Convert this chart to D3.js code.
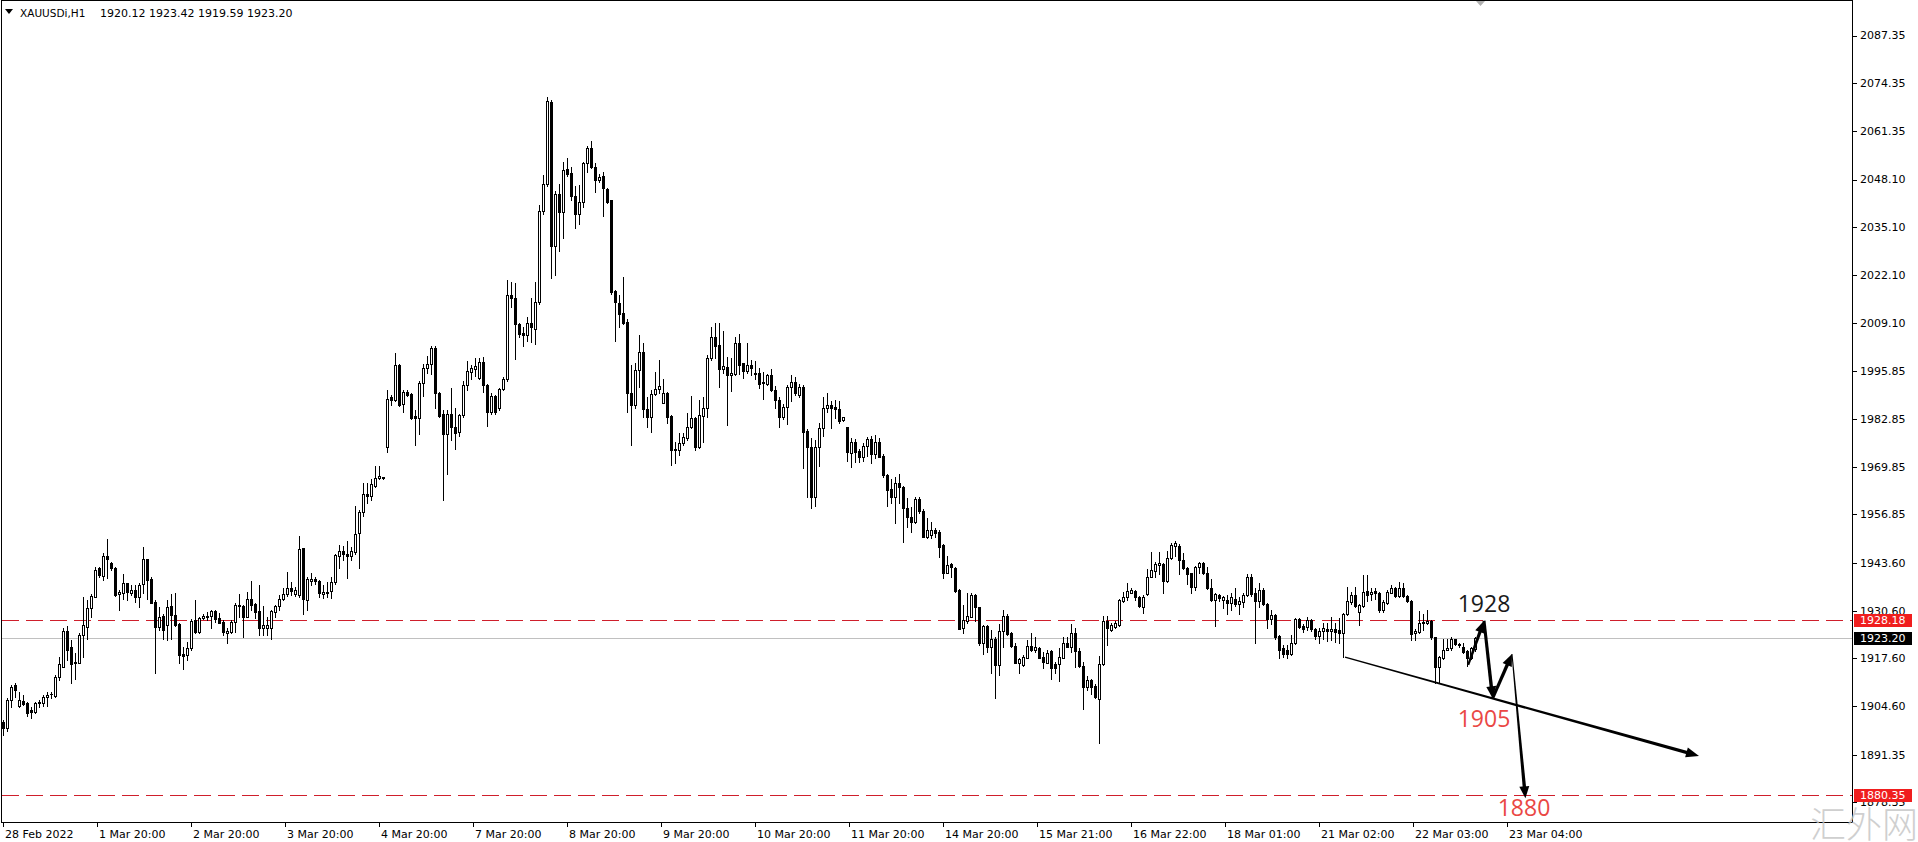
<!DOCTYPE html>
<html><head><meta charset="utf-8">
<script src="https://cdn.jsdelivr.net/npm/d3@7"></script>
<style>html,body{margin:0;padding:0;background:#fff;overflow:hidden}</style>
</head><body>
<svg id="chart" width="1918" height="842" xmlns="http://www.w3.org/2000/svg"></svg>
<script>
// ---------- DATA ----------
const symbolLabel = "XAUUSDi,H1";
const headerValues = "1920.12 1923.42 1919.59 1923.20";

// hourly candles: [open, high, low, close]
const candles = [
[1900.3,1900.8,1896.7,1898.5],[1898.5,1906.7,1897.8,1906.2],[1906.2,1910.3,1904.4,1909.7],[1910.3,1910.8,1907.1,1908.9],
[1904.6,1908.5,1904.4,1906.2],[1906.0,1907.6,1904.8,1905.1],[1905.5,1905.8,1901.8,1902.8],[1903.5,1904.2,1901.2,1903.0],
[1903.0,1905.8,1902.6,1905.5],[1905.4,1906.2,1904.4,1905.6],[1905.3,1907.6,1904.6,1907.1],[1907.0,1908.5,1904.6,1907.6],
[1907.8,1908.5,1906.9,1907.9],[1907.3,1913.0,1907.1,1912.6],[1912.4,1918.0,1911.8,1916.0],[1915.3,1926.0,1915.1,1925.0],
[1925.0,1926.4,1917.1,1920.0],[1920.8,1922.6,1910.9,1916.0],[1916.7,1919.0,1912.1,1916.2],[1916.4,1924.4,1916.2,1923.9],
[1923.9,1934.4,1918.0,1926.7],[1926.2,1933.5,1923.0,1931.2],[1931.2,1935.1,1928.9,1934.6],[1934.4,1942.6,1934.2,1941.8],
[1942.1,1942.6,1939.8,1940.3],[1940.0,1946.2,1938.9,1945.5],[1945.5,1950.0,1939.4,1944.8],[1943.5,1943.9,1941.7,1942.1],
[1942.1,1942.6,1934.5,1934.8],[1935.1,1936.2,1930.9,1935.8],[1935.5,1940.6,1933.7,1938.0],[1938.0,1938.2,1933.5,1935.8],
[1935.5,1937.6,1934.8,1936.2],[1936.2,1937.6,1933.0,1934.4],[1934.4,1938.0,1931.5,1937.6],[1937.8,1948.0,1935.3,1944.6],
[1944.6,1944.8,1933.7,1938.9],[1939.1,1939.8,1932.6,1932.8],[1933.0,1933.5,1913.5,1926.2],[1926.2,1931.5,1925.3,1928.9],
[1929.1,1929.8,1923.0,1925.3],[1926.7,1933.5,1922.6,1931.7],[1931.8,1935.1,1923.0,1929.4],[1929.4,1935.3,1926.5,1926.7],
[1926.9,1927.1,1916.2,1918.5],[1918.8,1920.8,1914.6,1918.2],[1918.5,1922.1,1917.1,1920.3],[1920.3,1928.2,1920.0,1927.8],
[1928.0,1933.5,1924.6,1924.8],[1924.8,1928.8,1924.6,1928.5],[1928.7,1929.7,1928.2,1929.1],[1928.8,1930.3,1928.0,1929.1],
[1929.0,1930.9,1926.0,1930.6],[1930.6,1930.8,1927.6,1928.2],[1928.5,1930.0,1927.1,1927.3],[1927.6,1928.0,1923.9,1924.8],
[1924.4,1925.8,1921.8,1925.1],[1924.8,1928.0,1924.6,1927.6],[1927.6,1932.6,1924.8,1932.1],[1931.8,1935.1,1928.9,1932.1],
[1931.8,1932.1,1923.3,1928.9],[1928.9,1935.8,1928.8,1933.7],[1933.7,1938.8,1930.8,1932.1],[1932.4,1932.8,1928.5,1930.3],
[1930.6,1937.6,1923.9,1926.0],[1926.0,1931.8,1923.9,1926.7],[1925.8,1928.9,1923.9,1926.7],[1926.0,1930.9,1923.0,1930.6],
[1930.3,1932.1,1928.9,1931.8],[1931.8,1934.8,1930.9,1933.9],[1933.9,1936.7,1933.5,1935.1],[1935.1,1941.2,1934.6,1936.7],
[1936.7,1938.5,1934.8,1936.0],[1935.1,1937.1,1934.6,1936.2],[1934.8,1950.9,1934.4,1947.3],[1947.6,1947.8,1929.7,1933.7],
[1933.4,1939.7,1930.9,1939.2],[1938.6,1940.8,1937.6,1939.2],[1939.2,1939.7,1937.8,1938.6],[1938.8,1938.9,1934.3,1935.3],
[1935.1,1937.6,1934.0,1935.8],[1935.3,1938.3,1934.2,1935.8],[1936.0,1939.7,1934.0,1938.3],[1938.3,1945.9,1937.8,1945.7],
[1945.4,1948.4,1942.3,1946.9],[1946.9,1948.1,1944.3,1945.9],[1946.1,1949.6,1939.5,1945.4],[1945.4,1948.0,1944.3,1946.9],
[1946.6,1959.2,1946.1,1951.5],[1951.7,1958.1,1942.3,1957.6],[1957.6,1965.5,1956.4,1962.5],[1962.5,1965.3,1959.8,1961.8],
[1961.8,1966.4,1960.7,1965.0],[1964.7,1969.9,1964.4,1966.8],[1966.8,1970.1,1966.4,1967.3],[1966.9,1967.0,1966.5,1966.7],
[1975.1,1990.8,1973.9,1988.3],[1988.9,1989.4,1986.6,1988.0],[1988.0,2000.9,1987.6,1997.5],[1997.5,1997.9,1986.5,1986.6],
[1986.8,1990.8,1984.8,1990.1],[1990.1,1990.8,1989.0,1989.4],[1989.6,1989.9,1982.8,1983.1],[1983.7,1985.3,1975.8,1983.0],
[1983.1,1993.3,1978.8,1992.6],[1992.6,1997.9,1989.0,1996.6],[1996.6,2000.0,1995.4,1997.9],[1997.9,2002.8,1995.1,2002.3],
[2002.3,2002.8,1985.7,1989.9],[1990.0,1990.3,1983.4,1983.7],[1984.1,1985.3,1960.7,1978.8],[1978.8,1985.3,1967.8,1984.1],
[1984.1,1991.3,1977.0,1980.7],[1980.7,1985.7,1974.7,1979.1],[1979.3,1984.3,1978.2,1983.9],[1983.9,1993.1,1983.4,1992.2],
[1992.2,1998.6,1990.8,1996.0],[1995.7,1997.5,1993.6,1996.6],[1996.5,1999.5,1994.5,1997.2],[1993.9,1999.4,1993.6,1998.4],
[1998.4,1999.7,1990.3,1992.0],[1992.0,1992.4,1980.9,1984.6],[1984.6,1989.9,1984.3,1989.0],[1989.0,1989.4,1984.3,1984.8],
[1985.7,1991.3,1985.3,1991.1],[1991.1,1994.2,1990.8,1993.8],[1993.6,2020.7,1993.1,2016.6],[2016.6,2020.3,2013.4,2015.7],
[2015.9,2020.0,1999.1,2008.6],[2008.7,2008.9,2005.3,2006.0],[2006.2,2008.0,2002.8,2005.8],[2005.8,2010.6,2004.0,2008.9],
[2008.9,2015.7,2003.7,2008.0],[2007.4,2020.3,2003.4,2014.7],[2014.7,2041.2,2014.1,2039.6],[2039.6,2049.3,2038.7,2047.0],
[2047.0,2070.5,2046.3,2069.4],[2069.1,2069.7,2021.2,2029.9],[2029.9,2045.1,2022.1,2044.2],[2044.2,2047.0,2028.6,2039.3],
[2039.3,2053.0,2032.2,2050.7],[2050.9,2053.9,2049.1,2049.5],[2050.0,2051.6,2042.4,2043.7],[2043.7,2046.3,2035.0,2038.7],
[2038.7,2046.5,2035.9,2041.9],[2041.9,2052.8,2040.5,2052.5],[2052.5,2057.1,2050.2,2056.6],[2056.6,2058.7,2051.3,2051.6],
[2051.6,2052.5,2044.7,2047.9],[2047.9,2049.7,2047.4,2048.8],[2049.1,2050.2,2038.2,2045.8],[2045.6,2045.8,2041.7,2042.1],
[2042.4,2042.6,2017.0,2017.5],[2017.8,2018.0,2004.1,2014.7],[2014.5,2016.6,2007.8,2011.5],[2011.6,2021.6,2008.8,2009.1],
[2009.4,2010.2,1984.8,1989.8],[1989.8,1997.5,1975.7,1986.6],[1986.6,1998.0,1985.7,1996.2],[1996.2,2005.7,1991.6,2001.2],
[2001.2,2003.5,1983.5,1985.5],[1985.5,1988.9,1980.6,1983.5],[1983.3,1990.7,1979.4,1989.6],[1989.6,1995.7,1989.4,1990.9],
[1990.9,1998.9,1989.8,1991.8],[1987.3,1993.6,1987.1,1989.8],[1990.0,1990.3,1981.8,1983.5],[1983.6,1983.9,1970.3,1974.5],
[1974.6,1976.6,1970.7,1974.4],[1974.5,1978.9,1973.0,1976.2],[1976.2,1979.1,1975.7,1977.8],[1977.6,1984.4,1977.1,1980.7],
[1980.7,1989.1,1980.3,1983.0],[1983.0,1983.5,1974.4,1975.3],[1975.3,1988.0,1974.8,1983.9],[1983.6,1988.9,1976.6,1985.7],
[1985.7,2000.3,1983.5,1999.4],[1999.4,2008.0,1998.9,2005.1],[2005.1,2009.1,1999.4,2002.7],[2003.0,2008.9,1991.5,1996.4],
[1996.4,2006.9,1995.3,1997.3],[1996.9,1999.6,1981.2,1994.8],[1994.8,1999.4,1990.5,1995.3],[1995.1,2005.3,1994.8,2003.6],
[2003.6,2006.0,1995.1,1997.6],[1998.0,1998.2,1993.9,1996.0],[1996.0,2003.5,1995.5,1997.6],[1997.6,1998.9,1994.8,1996.6],
[1995.5,1998.7,1993.6,1995.1],[1995.3,1996.6,1991.2,1992.4],[1992.6,1995.7,1988.2,1993.0],[1992.4,1995.1,1992.1,1994.8],
[1994.8,1996.4,1990.5,1990.7],[1990.7,1991.8,1985.7,1988.0],[1988.0,1988.7,1980.7,1983.5],[1983.5,1986.9,1982.7,1986.0],
[1986.0,1992.1,1981.5,1991.5],[1991.5,1994.8,1987.8,1993.0],[1993.0,1994.2,1989.4,1989.8],[1989.4,1992.4,1988.7,1991.5],
[1991.6,1992.1,1969.4,1979.4],[1979.6,1980.0,1961.7,1975.1],[1975.1,1977.6,1958.5,1961.7],[1961.7,1977.1,1959.1,1975.1],
[1975.1,1981.8,1970.0,1980.5],[1980.5,1988.7,1978.2,1985.7],[1985.7,1989.8,1984.8,1986.6],[1986.6,1987.8,1980.3,1985.7],
[1986.0,1988.0,1983.0,1985.5],[1985.5,1987.6,1981.8,1982.4],[1982.6,1983.5,1982.4,1983.3],[1980.6,1980.7,1971.5,1973.9],
[1973.6,1977.6,1969.8,1976.6],[1976.6,1977.3,1971.2,1973.9],[1974.2,1974.6,1971.2,1972.4],[1972.4,1976.4,1971.5,1975.5],
[1975.5,1977.8,1972.7,1977.3],[1977.3,1978.2,1970.9,1973.3],[1973.3,1978.5,1972.1,1976.6],[1976.6,1977.6,1972.4,1972.6],
[1972.7,1973.3,1966.9,1967.6],[1967.6,1967.8,1959.1,1963.5],[1963.7,1966.6,1959.8,1961.5],[1961.5,1966.9,1954.4,1965.5],
[1965.3,1967.8,1960.0,1964.2],[1964.2,1964.6,1949.4,1958.7],[1958.7,1961.2,1953.5,1956.0],[1956.0,1958.9,1952.1,1954.8],
[1954.8,1961.5,1954.4,1960.9],[1960.9,1961.7,1957.1,1957.8],[1957.8,1958.2,1950.6,1950.8],[1950.8,1955.8,1950.3,1952.6],
[1951.2,1954.8,1950.5,1952.6],[1952.6,1953.0,1950.8,1951.7],[1952.1,1952.6,1945.3,1948.0],[1948.5,1948.8,1939.4,1940.9],
[1940.9,1945.5,1940.8,1943.0],[1943.2,1943.5,1939.9,1942.4],[1942.1,1942.4,1935.8,1936.0],[1936.2,1936.4,1925.5,1925.7],
[1925.8,1932.1,1924.6,1928.0],[1927.9,1935.3,1927.1,1929.1],[1928.9,1935.3,1928.8,1934.9],[1934.9,1935.1,1927.9,1931.5],
[1931.5,1931.7,1921.2,1921.7],[1921.7,1926.7,1918.9,1926.4],[1926.4,1926.7,1919.4,1920.8],[1920.8,1925.3,1913.5,1923.0],
[1923.0,1923.3,1906.9,1915.8],[1915.8,1926.9,1913.0,1925.1],[1925.1,1930.8,1920.6,1929.1],[1929.1,1929.7,1923.9,1924.2],
[1924.4,1924.9,1920.8,1920.9],[1920.9,1921.9,1916.2,1916.4],[1916.4,1917.6,1913.5,1917.3],[1915.8,1918.5,1915.5,1918.0],
[1917.8,1922.6,1917.6,1920.9],[1920.9,1924.6,1919.7,1920.0],[1920.0,1923.3,1919.4,1920.6],[1920.3,1920.8,1917.6,1917.8],
[1918.0,1919.4,1914.9,1916.7],[1916.4,1920.0,1916.2,1919.1],[1919.7,1919.9,1912.1,1914.9],[1916.0,1916.7,1913.7,1914.9],
[1916.0,1920.3,1911.5,1918.0],[1917.8,1923.3,1917.6,1921.7],[1921.7,1923.5,1920.6,1920.8],[1920.8,1926.9,1919.4,1924.4],
[1924.4,1925.8,1915.3,1919.7],[1919.7,1920.3,1915.1,1915.5],[1915.5,1916.7,1903.7,1909.7],[1909.7,1912.8,1909.1,1911.7],
[1911.7,1912.1,1908.0,1909.9],[1910.0,1910.6,1906.9,1907.1],[1906.4,1918.2,1894.6,1916.0],[1916.0,1929.1,1915.8,1927.9],
[1927.9,1929.1,1921.2,1926.0],[1925.3,1927.1,1925.1,1926.7],[1926.2,1927.9,1926.0,1927.1],[1926.7,1933.9,1926.4,1933.5],
[1933.3,1935.8,1933.0,1934.2],[1934.2,1938.0,1933.5,1936.0],[1935.5,1936.9,1935.3,1936.2],[1936.0,1936.2,1933.5,1934.2],
[1934.4,1934.6,1931.5,1931.9],[1931.5,1934.9,1929.9,1934.2],[1935.1,1941.9,1934.9,1939.9],[1939.9,1946.7,1939.7,1941.7],
[1941.5,1943.9,1939.9,1943.3],[1943.0,1946.7,1940.6,1943.5],[1943.3,1943.7,1935.3,1938.8],[1938.8,1946.9,1938.5,1944.9],
[1944.9,1948.9,1944.6,1948.5],[1948.2,1949.7,1945.5,1948.9],[1948.2,1948.8,1940.6,1944.4],[1944.4,1946.2,1941.9,1942.1],
[1942.1,1942.4,1937.9,1940.6],[1940.8,1940.9,1935.3,1937.1],[1937.1,1942.8,1936.2,1942.6],[1942.4,1943.9,1940.8,1943.7],
[1943.7,1943.9,1940.6,1940.9],[1940.9,1942.4,1936.4,1936.7],[1936.7,1939.1,1933.3,1933.5],[1933.5,1935.5,1926.4,1935.1],
[1934.9,1935.1,1933.3,1934.0],[1933.5,1934.6,1931.2,1934.2],[1933.5,1934.9,1929.7,1932.8],[1932.8,1935.3,1930.8,1934.4],
[1933.9,1936.9,1931.9,1932.4],[1932.4,1934.4,1929.7,1933.3],[1933.0,1935.3,1931.5,1934.9],[1934.9,1940.6,1934.6,1939.7],
[1939.7,1940.6,1934.6,1935.1],[1935.5,1936.7,1921.7,1933.3],[1933.3,1938.0,1931.5,1936.2],[1936.2,1936.7,1932.1,1932.4],
[1932.4,1932.8,1926.0,1928.2],[1928.2,1930.9,1926.9,1929.4],[1929.4,1929.7,1923.0,1923.3],[1923.7,1923.9,1917.6,1920.0],
[1920.3,1921.2,1917.9,1918.9],[1920.0,1921.2,1917.6,1918.8],[1918.8,1923.9,1918.5,1921.9],[1921.9,1928.5,1921.5,1928.2],
[1928.2,1928.5,1925.8,1926.2],[1926.4,1926.9,1924.9,1925.5],[1926.2,1928.8,1925.3,1928.0],[1928.0,1928.2,1925.1,1925.5],
[1925.5,1925.8,1922.8,1923.7],[1923.7,1925.8,1921.7,1925.1],[1925.1,1927.1,1923.0,1925.8],[1925.5,1927.1,1922.4,1925.1],
[1925.1,1928.8,1922.6,1925.5],[1925.5,1927.1,1922.1,1924.9],[1925.3,1928.5,1921.7,1924.4],[1924.4,1930.0,1917.9,1929.7],
[1929.7,1937.1,1929.4,1933.3],[1933.0,1935.8,1932.4,1934.9],[1934.9,1937.1,1931.5,1931.9],[1930.3,1932.4,1926.7,1932.1],
[1931.9,1940.3,1931.5,1935.8],[1936.0,1940.3,1933.3,1934.9],[1935.1,1936.7,1933.5,1935.8],[1936.0,1936.9,1933.9,1935.3],
[1935.5,1935.8,1930.3,1930.8],[1930.8,1933.5,1930.3,1933.0],[1932.8,1936.2,1932.4,1935.8],[1935.5,1937.6,1935.3,1936.7],
[1936.7,1937.1,1934.4,1934.6],[1934.6,1938.5,1934.4,1936.7],[1936.7,1938.2,1934.4,1934.6],[1934.6,1934.9,1933.0,1933.3],
[1933.3,1933.5,1922.6,1924.2],[1924.4,1925.5,1922.6,1925.1],[1924.9,1930.6,1924.6,1927.1],[1927.1,1929.7,1925.3,1927.6],
[1927.3,1930.8,1926.9,1927.9],[1927.9,1928.0,1923.0,1923.3],[1923.3,1923.5,1910.8,1915.1],[1915.1,1918.2,1910.8,1917.9],
[1917.6,1923.0,1917.3,1920.0],[1920.0,1923.0,1919.9,1920.3],[1920.3,1923.3,1920.0,1922.8],[1922.8,1923.0,1921.2,1921.5],
[1921.5,1921.9,1920.8,1921.2],[1920.6,1921.7,1919.1,1919.4],[1919.7,1920.0,1915.4,1917.6],[1917.6,1920.8,1917.3,1920.3],
[1920.12,1923.42,1919.59,1923.20]
];

const priceTickLabels = ["2087.35","2074.35","2061.35","2048.10","2035.10","2022.10","2009.10","1995.85",
  "1982.85","1969.85","1956.85","1943.60","1930.60","1917.60","1904.60","1891.35","1878.35"];
const timeTickLabels = ["28 Feb 2022","1 Mar 20:00","2 Mar 20:00","3 Mar 20:00","4 Mar 20:00","7 Mar 20:00",
  "8 Mar 20:00","9 Mar 20:00","10 Mar 20:00","11 Mar 20:00","14 Mar 20:00","15 Mar 21:00","16 Mar 22:00",
  "18 Mar 01:00","21 Mar 02:00","22 Mar 03:00","23 Mar 04:00"];
const timeTickBars = [0,23.5,47,70.5,94,117.5,141,164.5,188,211.5,235,258.5,282,305.5,329,352.5,376];

const levelPrices = [1928.18, 1880.35];   // red dashed levels
const bidPrice = 1923.20;                  // grey bid line
const trendLine = [[335.5,1917.9],[424,1891.0]];
const zigzag = [[366.3,1915.8],[370.25,1927.85],[372.4,1906.7],[377.25,1918.8],[380.6,1879.45]];
const noteTexts = ["1928","1905","1880"];
const noteBars = [370.25,370.25,380.25];
const notePrices = [1930.2,1898.9,1874.6];
const noteColors = ["#1a1a1a","#ea4744","#ea4744"];

// ---------- DRAW ----------
const W = 1918, H = 842;
const plotRight = 1852, plotBottom = 822;
const svg = d3.select("#chart");
const x = d3.scaleLinear().domain([0, 368]).range([3, 1475]);
const y = d3.scaleLinear().domain([1880.35, 2087.35]).range([795, 35.5]);
const AXF = "'DejaVu Sans', Verdana, sans-serif";

svg.append("rect").attr("width", W).attr("height", H).attr("fill", "#fff");
svg.append("defs").append("clipPath").attr("id","clip")
  .append("rect").attr("x",1).attr("y",1).attr("width",plotRight-1).attr("height",plotBottom-1);

const plot = svg.append("g").attr("clip-path","url(#clip)");

// bid line
plot.append("line").attr("x1",1).attr("x2",plotRight).attr("y1",Math.round(y(bidPrice))+0.5)
  .attr("y2",Math.round(y(bidPrice))+0.5).attr("stroke","#c0c0c0").attr("stroke-width",1);
// red dashed levels
plot.selectAll("line.lvl").data(levelPrices).join("line").attr("class","lvl")
  .attr("x1",2).attr("x2",plotRight).attr("y1",d=>Math.round(y(d))+0.5).attr("y2",d=>Math.round(y(d))+0.5)
  .attr("stroke","#cf1f2c").attr("stroke-width",1).attr("stroke-dasharray","17,7");

// candles
const cg = plot.append("g").attr("shape-rendering","crispEdges");
candles.forEach((d,i)=>{
  const [o,h,l,c] = d;
  const cx = Math.round(x(i));
  const hi = Math.max(h,o,c), lo = Math.min(l,o,c);
  cg.append("line").attr("x1",cx+0.5).attr("x2",cx+0.5)
    .attr("y1",Math.round(y(hi))).attr("y2",Math.round(y(lo))+1).attr("stroke","#000");
  const top = Math.round(y(Math.max(o,c))), bot = Math.round(y(Math.min(o,c)));
  const bull = c >= o;
  if (bot - top < 1) {
    cg.append("line").attr("x1",cx-1).attr("x2",cx+2).attr("y1",top+0.5).attr("y2",top+0.5).attr("stroke","#000");
  } else {
    cg.append("rect").attr("x",cx-0.5).attr("y",top+0.5).attr("width",2).attr("height",bot-top)
      .attr("fill", bull ? "#fff" : "#000").attr("stroke","#000").attr("stroke-width",1);
  }
});

// tapered arrows
function arrow(g, p0, p1, w0, w1, headLen, headHalf, withHead){
  const dx=p1[0]-p0[0], dy=p1[1]-p0[1], len=Math.hypot(dx,dy);
  const ux=dx/len, uy=dy/len, nx=-uy, ny=ux;
  const e = withHead ? [p1[0]-ux*headLen*0.8, p1[1]-uy*headLen*0.8] : p1;
  const pts = [[p0[0]+nx*w0/2,p0[1]+ny*w0/2],[e[0]+nx*w1/2,e[1]+ny*w1/2],
               [e[0]-nx*w1/2,e[1]-ny*w1/2],[p0[0]-nx*w0/2,p0[1]-ny*w0/2]];
  g.append("polygon").attr("points",pts.map(p=>p.join(",")).join(" ")).attr("fill","#000");
  if(withHead){
    const b=[p1[0]-ux*headLen,p1[1]-uy*headLen];
    const hp=[[p1[0],p1[1]],[b[0]+nx*headHalf,b[1]+ny*headHalf],[b[0]-nx*headHalf,b[1]-ny*headHalf]];
    g.append("polygon").attr("points",hp.map(p=>p.join(",")).join(" ")).attr("fill","#000");
  }
}
const ag = plot.append("g");
const tp = trendLine.map(p=>[x(p[0]),y(p[1])]);
arrow(ag, tp[0], tp[1], 1.3, 3.2, 13, 5, true);
const zp = zigzag.map(p=>[x(p[0]),y(p[1])]);
const zw = [[2.2,3.4],[3.0,3.4],[3.0,3.4],[1.0,3.4]];
for(let k=0;k<zp.length-1;k++) arrow(ag, zp[k], zp[k+1], zw[k][0], zw[k][1], 12, 5, true);

// annotation texts
plot.selectAll("text.note").data(noteTexts).join("text").attr("class","note")
  .attr("x",(d,i)=>x(noteBars[i])).attr("y",(d,i)=>y(notePrices[i]))
  .attr("text-anchor","middle").attr("font-family","'Open Sans', 'Noto Sans', sans-serif")
  .attr("font-size",23).attr("fill",(d,i)=>noteColors[i]).text(d=>d);

// frame
svg.append("path").attr("d",`M1.5,${plotBottom+0.5} V0.5 H${plotRight+0.5} V${plotBottom+0.5} H1.5`)
  .attr("fill","none").attr("stroke","#000").attr("stroke-width",1).attr("shape-rendering","crispEdges");

// price axis
const ya = svg.append("g").attr("shape-rendering","crispEdges");
priceTickLabels.forEach(s=>{
  const yy = Math.round(y(+s))+0.5;
  ya.append("line").attr("x1",plotRight+1).attr("x2",plotRight+5).attr("y1",yy).attr("y2",yy).attr("stroke","#000");
});
svg.append("g").selectAll("text").data(priceTickLabels).join("text")
  .attr("x",1860).attr("y",d=>y(+d)).attr("dy","0.36em")
  .attr("font-family",AXF).attr("font-size",11).attr("fill","#000").text(d=>d);

// price badges
const badges = [[levelPrices[0],"#f01e1e"],[bidPrice,"#000"],[levelPrices[1],"#f01e1e"]];
badges.forEach(([p,col])=>{
  const yy = Math.round(y(p));
  svg.append("rect").attr("x",plotRight+2).attr("y",yy-6).attr("width",58).attr("height",13).attr("fill",col);
  svg.append("text").attr("x",1860).attr("y",yy+0.5).attr("dy","0.36em")
    .attr("font-family",AXF).attr("font-size",11).attr("fill","#fff").text(p.toFixed(2));
});

// time axis
const xa = svg.append("g").attr("shape-rendering","crispEdges");
timeTickBars.forEach(b=>{
  const xx = Math.round(x(b))+0.5;
  xa.append("line").attr("x1",xx).attr("x2",xx).attr("y1",plotBottom).attr("y2",plotBottom+5).attr("stroke","#000");
});
svg.append("g").selectAll("text").data(timeTickLabels).join("text")
  .attr("x",(d,i)=>Math.round(x(timeTickBars[i]))+2).attr("y",838)
  .attr("font-family",AXF).attr("font-size",11).attr("fill","#000").text(d=>d);

// header
svg.append("path").attr("d","M5,9 L13,9 L9,14 Z").attr("fill","#000");
svg.append("text").attr("x",20).attr("y",17).attr("font-family",AXF).attr("font-size",10.5)
  .attr("fill","#000").text(symbolLabel);
svg.append("text").attr("x",100).attr("y",17).attr("font-family",AXF).attr("font-size",11)
  .attr("fill","#000").text(headerValues);

// chart-shift marker
svg.append("path").attr("d","M1476,1 L1485,1 L1480.5,6 Z").attr("fill","#b0b0b0");

// watermark
svg.append("text").attr("x",1810).attr("y",838).attr("font-family","'Noto Sans CJK SC', sans-serif")
  .attr("font-weight",300).attr("font-size",36).attr("fill","#c4c4c4").attr("opacity",0.8).text("汇外网");
</script>
</body></html>
